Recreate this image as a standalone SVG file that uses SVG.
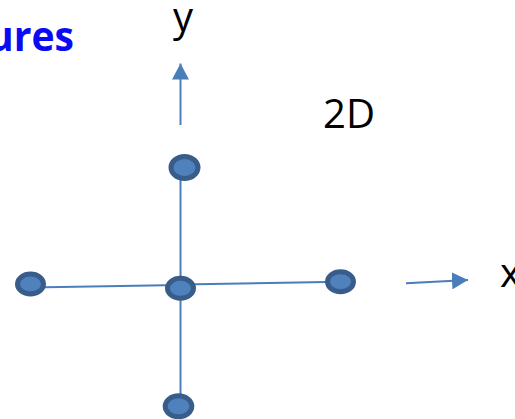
<svg xmlns="http://www.w3.org/2000/svg" width="515" height="419" viewBox="0 0 515 419">
  <style>
    .lbl { font-family: "Open Sans", "Liberation Sans", sans-serif; font-size: 40px; fill: #000000; }
    .title { font-family: "Open Sans", "Liberation Sans", sans-serif; font-size: 42px; font-weight: bold; fill: #0A0AF5; }
    .edge { stroke: #4A7EBB; stroke-width: 2; fill: none; }
    .node { fill: #4F81BD; stroke: #385D8A; stroke-width: 5; }
  </style>
  <defs>
    <marker id="arr" markerUnits="userSpaceOnUse" markerWidth="16" markerHeight="17" refX="16" refY="8.5" orient="auto">
      <path d="M0,0 L16,8.5 L0,17 Z" fill="#4A7EBB"/>
    </marker>
  </defs>
  <rect width="515" height="419" fill="#FFFFFF"/>
  <text class="title" x="-12" y="51" textLength="86" lengthAdjust="spacingAndGlyphs">ures</text>
  <text class="lbl" x="183" y="31" text-anchor="middle">y</text>
  <text class="lbl" x="323" y="128" textLength="52" lengthAdjust="spacingAndGlyphs">2D</text>
  <text class="lbl" x="500" y="287">x</text>
  <g id="connectors">
    <line class="edge" x1="180.5" y1="125" x2="180.5" y2="63.5" marker-end="url(#arr)"/>
    <line class="edge" x1="406" y1="283.3" x2="468" y2="280" marker-end="url(#arr)"/>
    <line class="edge" x1="180.5" y1="168" x2="180.5" y2="406"/>
    <line class="edge" x1="30.5" y1="287.6" x2="180.5" y2="285"/>
    <line class="edge" x1="180.5" y1="284.5" x2="340.5" y2="281.7"/>
  </g>
  <g id="node-top"><ellipse class="node" cx="184.5" cy="167.5" rx="13.5" ry="11"/></g>
  <g id="node-left"><ellipse class="node" cx="30.5" cy="284" rx="13" ry="10"/></g>
  <g id="node-center"><ellipse class="node" cx="180.5" cy="288.3" rx="13" ry="10"/></g>
  <g id="node-right"><ellipse class="node" cx="340.5" cy="281.7" rx="13" ry="10"/></g>
  <g id="node-bottom"><ellipse class="node" cx="178.5" cy="406.3" rx="13.3" ry="10.5"/></g>
</svg>
